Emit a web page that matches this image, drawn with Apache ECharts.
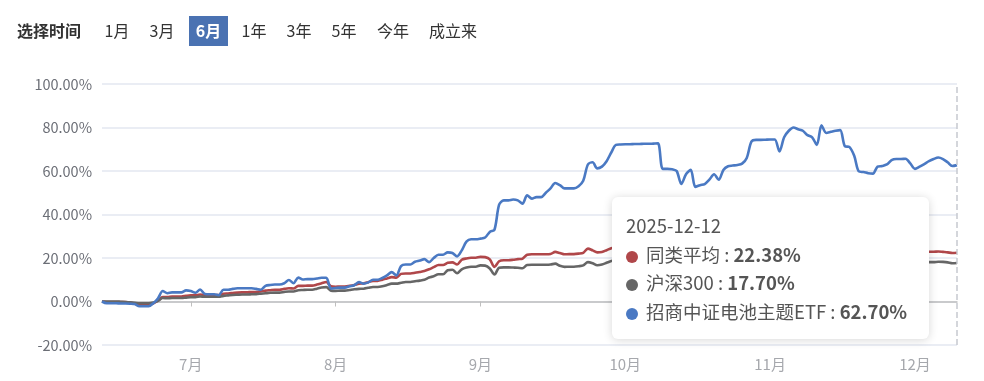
<!DOCTYPE html>
<html>
<head>
<meta charset="utf-8">
<script src="https://cdn.jsdelivr.net/npm/echarts@6/dist/echarts.min.js"></script>
<style>
html,body{margin:0;padding:0;background:#fff;}
#chart{width:984px;height:381px;}
</style>
</head>
<body>
<div id="chart"></div>
<script>
// ---------- data ----------
const startDate = '2025-06-12';
const dayCount = 184;
const seriesNames = ['同类平均', '沪深300', '招商中证电池主题ETF'];
const rangeButtons = ['1月', '3月', '6月', '1年', '3年', '5年', '今年', '成立来'];
const selectedButton = '6月';
const yTicks = [-20, 0, 20, 40, 60, 80, 100];
const monthTickDates = ['2025-07-01', '2025-08-01', '2025-09-01', '2025-10-02', '2025-11-02', '2025-12-03'];

const peerAvg = [
  0,-0.2,-0.2,-0.2,-0.3,-0.3,-0.5,-1.0,-1.5,-1.5,
  -1.5,-0.8,0.5,2.0,2.0,2.3,2.3,2.3,2.6,2.8,
  2.8,3.2,3.0,3.0,3.0,3.0,3.6,3.7,3.9,4.1,
  4.2,4.2,4.4,4.4,4.6,5.0,5.2,5.4,5.4,5.8,
  6.1,6.0,7.2,7.2,7.3,7.3,7.8,8.4,9.0,7.0,
  6.8,6.9,6.9,7.2,7.6,8.2,8.3,8.9,9.5,9.5,
  10.0,10.6,11.2,11.0,12.7,12.9,12.9,13.2,13.6,14.0,
  14.8,15.8,16.8,16.8,17.8,18.0,17.0,19.2,19.8,20.1,
  20.1,20.5,20.4,19.4,15.9,18.5,19.0,19.0,19.2,19.5,
  19.7,21.5,21.7,21.7,21.7,21.7,21.8,22.8,22.3,21.7,
  21.8,21.8,22.0,22.4,24.3,23.5,22.6,22.8,23.6,24.5,
  25.0,25.0,25.0,25.0,25.0,25.0,25.0,25.0,25.0,25.0,
  22.5,22.5,22.5,22.3,20.8,21.8,22.3,20.5,20.8,20.8,
  21.3,22.0,21.3,22.5,23.0,23.0,23.0,23.3,24.0,25.5,
  25.8,25.8,25.8,25.8,25.7,24.5,25.8,26.5,26.8,26.6,
  26.6,26.0,25.8,25.0,26.6,26.0,26.0,26.0,26.0,24.6,
  24.5,23.8,22.3,22.3,22.3,22.2,22.8,22.9,23.0,23.4,
  23.5,23.5,23.5,23.0,22.5,22.6,22.7,22.9,22.9,23.0,
  22.8,22.6,22.3,22.38
];
const hs300 = [
  0,0,0,0,-0.1,-0.2,-0.4,-0.6,-0.8,-0.8,
  -0.8,-0.5,0.3,1.6,1.5,1.6,1.6,1.6,1.8,2.0,
  2.0,2.3,2.2,2.2,2.2,2.2,2.6,2.8,3.0,3.1,
  3.2,3.2,3.3,3.4,3.6,3.8,4.0,4.1,4.1,4.4,
  4.6,4.6,5.2,5.3,5.4,5.4,5.9,6.4,6.6,5.0,
  4.9,5.0,5.0,5.3,5.6,5.8,5.9,6.3,6.7,6.7,
  7.0,7.6,8.2,8.2,8.6,9.0,9.0,9.3,9.6,10.0,
  11.0,11.6,12.5,12.5,14.4,14.6,13.0,14.8,15.6,16.0,
  16.0,16.6,16.5,15.2,12.4,15.5,15.7,15.7,15.6,15.5,
  15.3,16.8,16.9,16.9,16.9,16.9,17.0,17.4,16.4,15.9,
  16.0,16.0,16.2,16.6,18.1,17.6,16.7,17.0,17.8,18.6,
  19.0,19.0,19.0,19.0,19.0,19.0,19.0,19.0,19.0,19.0,
  17.4,17.4,17.4,17.2,16.2,16.8,17.0,15.8,16.0,16.0,
  16.4,16.9,16.5,17.3,17.6,17.7,17.7,17.8,18.2,19.2,
  19.4,19.4,19.4,19.4,19.3,18.5,19.3,19.8,20.0,19.9,
  19.9,19.5,19.3,18.7,19.8,19.4,19.4,19.4,19.4,18.5,
  18.4,17.9,17.0,17.0,17.0,16.9,17.3,17.4,17.5,17.8,
  17.9,17.9,17.9,17.5,17.2,17.4,17.8,18.1,18.1,18.3,
  18.2,18.0,17.6,17.70
];
const batteryEtf = [
  0,-0.8,-0.8,-0.8,-0.9,-0.9,-1.0,-1.2,-2.2,-2.2,
  -2.2,-0.8,1.5,4.8,3.8,4.2,4.2,4.2,5.1,4.8,
  4.0,5.5,3.5,3.3,3.3,2.9,5.4,5.4,5.8,6.1,
  6.1,6.1,6.1,5.8,5.4,7.2,7.6,7.8,7.8,8.4,
  9.9,8.4,11.0,10.1,10.3,10.3,10.6,10.9,10.9,6.0,
  6.2,6.4,6.4,7.0,7.5,8.9,8.2,8.8,10.0,10.0,
  10.8,12.0,13.5,12.0,16.3,17.0,17.0,18.3,18.8,19.5,
  18.1,20.0,21.5,21.5,22.6,22.3,20.7,23.5,27.5,28.6,
  28.6,28.9,29.4,32.0,33.0,44.5,46.5,46.5,46.9,46.5,
  45.0,48.8,47.3,48.0,48.0,50.0,52.0,54.5,53.5,52.0,
  52.0,52.0,53.0,55.5,63.0,64.0,61.2,62.0,64.5,68.5,
  72.0,72.2,72.3,72.3,72.4,72.4,72.5,72.5,72.6,72.7,
  61.0,61.0,60.8,60.0,54.0,58.5,60.5,52.7,53.5,54.0,
  56.0,58.5,56.0,60.5,62.2,62.5,62.8,63.4,66.0,73.5,
  74.3,74.3,74.4,74.5,74.5,69.0,75.5,78.5,80.0,79.2,
  78.5,76.5,75.5,72.0,81.0,77.5,78.0,78.5,78.8,71.4,
  71.0,67.0,59.8,59.5,59.0,58.8,62.0,62.3,63.0,65.0,
  65.5,65.5,65.6,63.5,61.0,62.0,63.2,64.5,65.5,66.2,
  65.5,64.0,62.3,62.7
];

// ---------- build categories (calendar days) ----------
function fmt(d){
  const m = d.getUTCMonth()+1, dd = d.getUTCDate();
  return d.getUTCFullYear()+'-'+(m<10?'0':'')+m+'-'+(dd<10?'0':'')+dd;
}
const dates = [];
{
  const p = startDate.split('-').map(Number);
  let t = Date.UTC(p[0], p[1]-1, p[2]);
  for (let i = 0; i < dayCount; i++) { dates.push(fmt(new Date(t))); t += 86400000; }
}
const tickSet = new Set(monthTickDates.map(d => dates.indexOf(d)));

const colors = ['#b0474a', '#666666', '#4a79c3'];
const FONT = '"Noto Sans CJK SC", "Microsoft YaHei", sans-serif';

// ---------- top buttons ----------
const btnCenters = [117, 162, 208.5, 254, 299, 344, 393, 453];
const graphic = [
  { type: 'text', x: 17, y: 31, style: { text: '选择时间', font: 'bold 16px ' + FONT, fill: '#333', textVerticalAlign: 'middle' } },
  { type: 'rect', shape: { x: 189, y: 16, width: 39, height: 30 }, style: { fill: '#4a72b2' } }
];
rangeButtons.forEach((b, i) => {
  const sel = b === selectedButton;
  graphic.push({ type: 'text', x: btnCenters[i], y: 31,
    style: { text: b, font: (sel ? 'bold ' : '') + '16px ' + FONT, fill: sel ? '#fff' : '#333',
      textAlign: 'center', textVerticalAlign: 'middle' } });
});

const chart = echarts.init(document.getElementById('chart'), null, { renderer: 'canvas' });
const lastIdx = dayCount - 1;

chart.setOption({
  animation: false,
  textStyle: { fontFamily: FONT },
  graphic: graphic,
  grid: { left: 102, right: 27, top: 84, bottom: 36, containLabel: false },
  tooltip: {
    trigger: 'axis',
    triggerOn: 'none',
    alwaysShowContent: true,
    position: [612, 197],
    backgroundColor: '#fff',
    borderWidth: 0,
    padding: [14, 12, 12, 14],
    extraCssText: 'width:317px;height:142px;box-sizing:border-box;box-shadow:0 1px 10px rgba(0,0,0,0.16);border-radius:6px;',
    axisPointer: { type: 'line', lineStyle: { color: '#c6c9d0', type: 'dashed', width: 1.5 } },
    formatter: function (params) {
      let s = '<div style="font-family:' + FONT.replace(/"/g, "'") + ';font-size:18.5px;line-height:28.5px;color:#555;white-space:nowrap;">';
      s += '<div>' + params[0].axisValue + '</div>';
      params.forEach(p => {
        s += '<div><span style="display:inline-block;width:12px;height:12px;border-radius:6px;background:' + p.color +
          ';margin-right:8px;vertical-align:-1px"></span>' + p.seriesName + ' : <b>' + Number(p.value).toFixed(2) + '%</b></div>';
      });
      return s + '</div>';
    }
  },
  xAxis: [
    {
      type: 'category', data: dates, boundaryGap: false,
      axisLine: { show: false, onZero: false },
      axisTick: { show: false },
      axisLabel: {
        interval: (i) => tickSet.has(i), color: '#a6a8ad', fontSize: 15, margin: 12,
        formatter: (v) => Number(v.split('-')[1]) + '月'
      },
      splitLine: { show: false },
      axisPointer: { show: true }
    },
    {
      type: 'category', data: dates, boundaryGap: false, position: 'bottom',
      axisLine: { show: true, onZero: true, lineStyle: { color: '#bfbfbf', width: 1.5 } },
      axisTick: { show: true, interval: (i) => tickSet.has(i), length: 5, lineStyle: { color: '#bfbfbf' } },
      axisLabel: { show: false },
      splitLine: { show: false },
      axisPointer: { show: false }
    }
  ],
  yAxis: {
    type: 'value', min: yTicks[0], max: yTicks[yTicks.length - 1], interval: 20,
    axisLine: { show: false }, axisTick: { show: false },
    axisLabel: { color: '#6b6e76', fontSize: 14.5, margin: 10, formatter: (v) => v.toFixed(2) + '%' },
    splitLine: { lineStyle: { color: '#e3e7f0', width: 1.5 } }
  },
  series: [
    { name: seriesNames[0], type: 'line', data: peerAvg, color: colors[0] },
    { name: seriesNames[1], type: 'line', data: hs300, color: colors[1] },
    { name: seriesNames[2], type: 'line', data: batteryEtf, color: colors[2] }
  ].map(s => Object.assign(s, { symbol: 'none', smooth: 0.3, lineStyle: { width: 2.6 }, emphasis: { disabled: true } }))
});

chart.dispatchAction({ type: 'showTip', seriesIndex: 2, dataIndex: lastIdx });
</script>
</body>
</html>
